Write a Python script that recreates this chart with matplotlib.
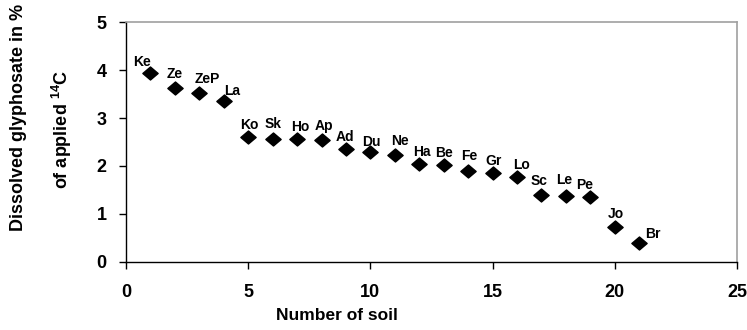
import matplotlib.pyplot as plt
from matplotlib.path import Path

plt.rcParams['font.family'] = ['Liberation Sans', 'DejaVu Sans']
plt.rcParams['font.weight'] = 'bold'
plt.rcParams['mathtext.fontset'] = 'custom'
plt.rcParams['mathtext.rm'] = 'Liberation Sans'
plt.rcParams['mathtext.bf'] = 'Liberation Sans:bold'

# soil abbreviations, ordered by dissolved glyphosate
soils = ['Ke', 'Ze', 'ZeP', 'La', 'Ko', 'Sk', 'Ho', 'Ap', 'Ad', 'Du', 'Ne',
         'Ha', 'Be', 'Fe', 'Gr', 'Lo', 'Sc', 'Le', 'Pe', 'Jo', 'Br']
soil_no = list(range(1, len(soils) + 1))
dissolved = [3.94, 3.63, 3.52, 3.35, 2.60, 2.56, 2.56, 2.55, 2.35, 2.29, 2.23,
             2.04, 2.02, 1.90, 1.85, 1.77, 1.40, 1.38, 1.35, 0.73, 0.40]

# label offsets in points (dx, dy)
offsets = [(-6, 8), (0, 10), (6, 10), (6, 7), (1, 9), (0, 11), (2, 9), (2, 10),
           (-1, 9), (1, 7), (4, 10), (2, 9), (0, 9), (1, 11), (1, 9), (3, 9),
           (-2, 10), (-1, 11), (-4, 9), (1, 9), (10, 6)]

diamond = Path([(-1, 0), (0, 0.85), (1, 0), (0, -0.85), (-1, 0)],
               [Path.MOVETO, Path.LINETO, Path.LINETO, Path.LINETO, Path.CLOSEPOLY])

fig = plt.figure(figsize=(7.47, 3.30), dpi=100)
ax = fig.add_axes([0.1687, 0.2061, 0.8179, 0.7272])

ax.plot(soil_no, dissolved, linestyle='none', marker=diamond, markersize=11,
        color='black')
for x, y, s, (dx, dy) in zip(soil_no, dissolved, soils, offsets):
    ax.annotate(s, (x, y), xytext=(dx, dy), textcoords='offset points',
                ha='center', va='center', fontsize=10, fontweight='bold')

ax.set_xlim(0, 25)
ax.set_ylim(0, 5)
ax.set_xticks([0, 5, 10, 15, 20, 25])
ax.set_yticks([0, 1, 2, 3, 4, 5])
ax.tick_params(direction='out', length=5, width=1, labelsize=13)
ax.tick_params(axis='y', pad=9)
ax.tick_params(axis='x', pad=11)
for lab in ax.get_xticklabels() + ax.get_yticklabels():
    lab.set_fontweight('bold')

for side in ['left', 'bottom']:
    ax.spines[side].set_color('black')
    ax.spines[side].set_linewidth(1)
for side in ['top', 'right']:
    ax.spines[side].set_color('#a0a0a0')
    ax.spines[side].set_linewidth(1.2)

fig.text(337 / 747, 1 - 316 / 330, 'Number of soil', ha='center', va='center',
         fontsize=12.5, fontweight='bold')
fig.text(19 / 747, 1 - 117 / 330, 'Dissolved glyphosate in %', rotation=90,
         ha='center', va='center', fontsize=13, fontweight='bold')
fig.text(62 / 747, 1 - 129 / 330, r'of applied $^{\mathbf{14}}$C', rotation=90,
         ha='center', va='center', fontsize=13, fontweight='bold')

fig.savefig('out.png', dpi=100)
